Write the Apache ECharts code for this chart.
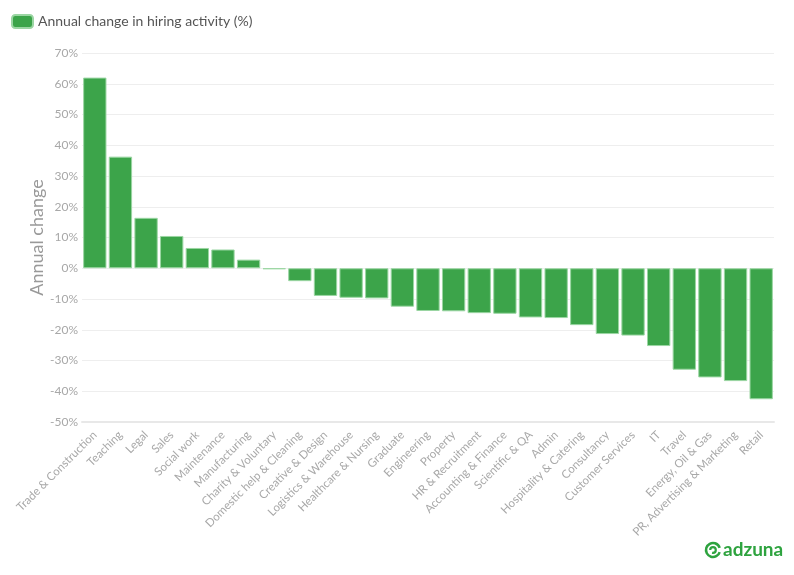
<!DOCTYPE html>
<html>
<head>
<meta charset="utf-8">
<script src="https://cdn.jsdelivr.net/npm/echarts@6/dist/echarts.min.js"></script>
<style>
  html, body { margin: 0; padding: 0; background: #fff; }
  #chart { width: 794px; height: 575px; }
</style>
</head>
<body>
<div id="chart"></div>
<script>
let categories = ['Trade & Construction', 'Teaching', 'Legal', 'Sales', 'Social work', 'Maintenance',
  'Manufacturing', 'Charity & Voluntary', 'Domestic help & Cleaning', 'Creative & Design',
  'Logistics & Warehouse', 'Healthcare & Nursing', 'Graduate', 'Engineering', 'Property',
  'HR & Recruitment', 'Accounting & Finance', 'Scientific & QA', 'Admin', 'Hospitality & Catering',
  'Consultancy', 'Customer Services', 'IT', 'Travel', 'Energy, Oil & Gas',
  'PR, Advertising & Marketing', 'Retail'];
let changeValues = [62, 36.3, 16.4, 10.5, 6.6, 6.1, 2.8, -0.3, -4.2, -9.0, -9.6, -9.8, -12.5, -13.9,
  -14.0, -14.6, -14.8, -16.0, -16.2, -18.5, -21.4, -21.9, -25.3, -33.0, -35.5, -36.7, -42.6];
let seriesName = 'Annual change in hiring activity (%)';

let chart = echarts.init(document.getElementById('chart'));
let font = 'Lato, "Source Sans Pro", sans-serif';

let options = {
  textStyle: { fontFamily: font },
  legend: {
    left: 6,
    top: 9,
    itemWidth: 21,
    itemHeight: 13,
    itemGap: 10,
    icon: 'roundRect',
    textStyle: { fontSize: 14, color: '#555', fontFamily: font },
    data: [seriesName]
  },
  grid: { left: 82, right: 20, top: 53, bottom: 153 },
  xAxis: {
    type: 'category',
    data: categories,
    axisLine: { onZero: false, lineStyle: { color: '#e8e8e8', width: 2 } },
    axisTick: { lineStyle: { color: '#e8e8e8' }, length: 5 },
    axisLabel: { rotate: 45, interval: 0, color: '#a8a8a8', fontSize: 11.5, fontFamily: font, margin: 11 }
  },
  yAxis: {
    type: 'value',
    min: -50,
    max: 70,
    interval: 10,
    name: 'Annual change',
    nameLocation: 'middle',
    nameGap: 36,
    nameMoveOverlap: false,
    nameTextStyle: { fontSize: 18, color: '#999', fontFamily: font },
    axisLine: { show: false },
    axisTick: { show: false },
    axisLabel: { formatter: '{value}%', color: '#a8a8a8', fontSize: 12, fontFamily: font, margin: 4 },
    splitLine: { lineStyle: { color: '#eee' } }
  },
  series: [
    {
      name: seriesName,
      type: 'bar',
      data: changeValues,
      barCategoryGap: '9%',
      itemStyle: { color: '#3ca44a', borderColor: '#9bd6a3', borderWidth: 1 }
    }
  ],
  graphic: [
    {
      type: 'arc',
      shape: { cx: 713, cy: 550, r: 7, startAngle: 0.3, endAngle: Math.PI * 2 - 0.3 },
      style: { stroke: '#2ea33f', lineWidth: 2.5, fill: null }
    },
    {
      type: 'arc',
      shape: { cx: 713, cy: 550, r: 2.8, startAngle: Math.PI, endAngle: Math.PI * 2.6 },
      style: { stroke: '#2ea33f', lineWidth: 2.2, fill: null }
    },
    {
      type: 'text',
      left: 723,
      top: 540,
      style: { text: 'adzuna', fill: '#2ea33f', fontSize: 19, fontWeight: 'bold', fontFamily: 'Lato, sans-serif' }
    }
  ]
};

chart.setOption(options);
</script>
</body>
</html>
